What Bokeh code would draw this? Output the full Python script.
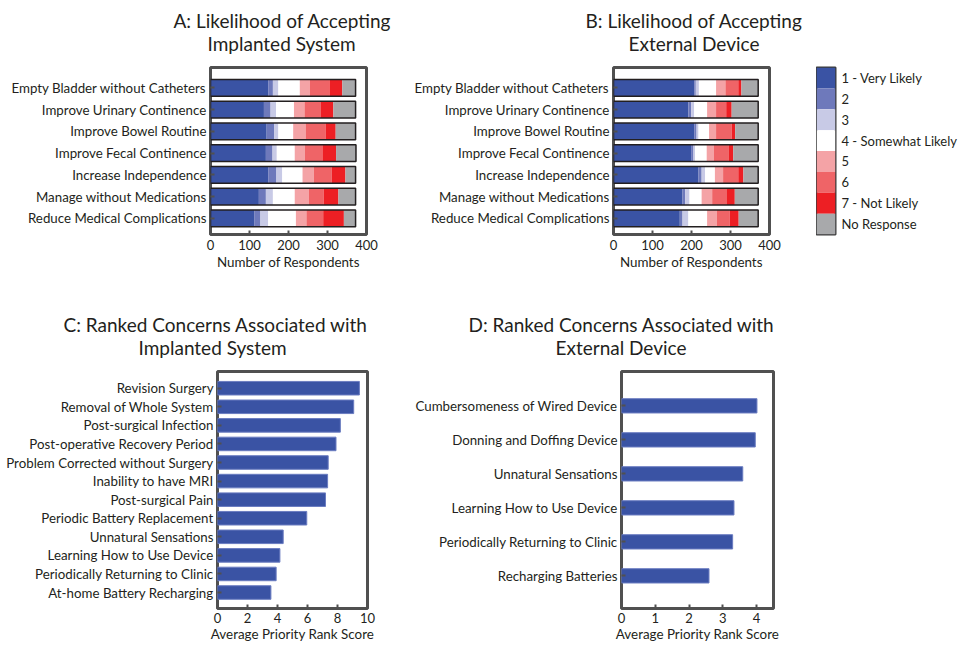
from bokeh.plotting import figure
from bokeh.models import Range1d, FixedTicker, Title, ColumnDataSource
from bokeh.layouts import row, column
from bokeh.embed import file_html
from bokeh.resources import INLINE

# ---------------- data ----------------
outcomes = ["Empty Bladder without Catheters", "Improve Urinary Continence",
            "Improve Bowel Routine", "Improve Fecal Continence",
            "Increase Independence", "Manage without Medications",
            "Reduce Medical Complications"]

response_labels = ["1 - Very Likely", "2", "3", "4 - Somewhat Likely",
                   "5", "6", "7 - Not Likely", "No Response"]
response_keys = ["r1", "r2", "r3", "r4", "r5", "r6", "r7", "nr"]
response_colors = ["#3a53a4", "#6e79bb", "#c8cae6", "#ffffff",
                   "#f4a3a6", "#ef6467", "#ed1f24", "#a8a9ab"]

# A: implanted system (respondents per response level, one value per outcome)
a_r1 = [148, 137, 144, 142, 148, 124, 112]
a_r2 = [12, 17, 19, 17, 21, 18, 16]
a_r3 = [14, 14, 11, 11, 15, 18, 20]
a_r4 = [55, 46, 38, 46, 52, 56, 71]
a_r5 = [26, 27, 32, 26, 29, 36, 27]
a_r6 = [50, 41, 51, 45, 46, 38, 43]
a_r7 = [33, 33, 26, 35, 35, 38, 53]
a_nr = [34, 57, 51, 51, 26, 44, 30]

# B: external device
b_r1 = [207, 192, 207, 199, 218, 177, 170]
b_r2 = [4, 7, 6, 6, 8, 7, 7]
b_r3 = [8, 8, 5, 4, 9, 11, 15]
b_r4 = [44, 33, 27, 30, 25, 31, 48]
b_r5 = [24, 23, 18, 18, 21, 27, 25]
b_r6 = [33, 26, 40, 39, 39, 38, 33]
b_r7 = [8, 14, 9, 11, 13, 20, 23]
b_nr = [43, 68, 59, 64, 38, 60, 50]

# C: ranked concerns, implanted system
implant_concerns = ["Revision Surgery", "Removal of Whole System",
                    "Post-surgical Infection", "Post-operative Recovery Period",
                    "Problem Corrected without Surgery", "Inability to have MRI",
                    "Post-surgical Pain", "Periodic Battery Replacement",
                    "Unnatural Sensations", "Learning How to Use Device",
                    "Periodically Returning to Clinic", "At-home Battery Recharging"]
implant_scores = [9.46, 9.08, 8.19, 7.90, 7.38, 7.34, 7.20, 5.95, 4.38, 4.16, 3.91, 3.56]

# D: ranked concerns, external device
external_concerns = ["Cumbersomeness of Wired Device", "Donning and Doffing Device",
                     "Unnatural Sensations", "Learning How to Use Device",
                     "Periodically Returning to Clinic", "Recharging Batteries"]
external_scores = [4.01, 3.96, 3.59, 3.33, 3.29, 2.59]

ab_ticks = [0, 100, 200, 300, 400]
c_ticks = [0, 2, 4, 6, 8, 10]
d_ticks = [0, 1, 2, 3, 4]

# ---------------- style ----------------
FONT = "Lato"
TEXT = "#231f20"
FRAME = "#505050"
BAR = "#3a53a4"


def style(p, xticks, labels, xlabel, tick_std=5, lab_std=1):
    p.outline_line_color = FRAME
    p.outline_line_width = 3
    p.grid.visible = False
    p.background_fill_color = "white"
    p.border_fill_color = "white"
    p.xaxis.ticker = FixedTicker(ticks=xticks)
    p.yaxis.ticker = FixedTicker(ticks=list(range(1, len(labels) + 1)))
    p.yaxis.major_label_overrides = {i + 1: lab for i, lab in enumerate(labels)}
    for ax in (p.xaxis[0], p.yaxis[0]):
        ax.axis_line_color = None
        ax.major_tick_in = 4
        ax.major_tick_out = 0
        ax.major_tick_line_color = FRAME
        ax.major_tick_line_width = 2
        ax.minor_tick_line_color = None
        ax.major_label_text_font = FONT
        ax.major_label_text_color = TEXT
    p.yaxis.major_label_text_font_size = "13.3px"
    p.yaxis.major_label_standoff = 4
    p.xaxis.major_label_text_font_size = "13px"
    p.xaxis.major_label_standoff = tick_std
    p.xaxis.axis_label = xlabel
    p.xaxis.axis_label_text_font = FONT
    p.xaxis.axis_label_text_font_size = "13.4px"
    p.xaxis.axis_label_text_font_style = "normal"
    p.xaxis.axis_label_text_color = TEXT
    p.xaxis.axis_label_standoff = lab_std


def titles(p, line1, off1, line2, off2, gap):
    # spacer between frame and title lines, then the two title lines
    p.add_layout(Title(text=" ", text_font_size=f"{gap}px", standoff=0), "above")
    for i, (txt, off) in enumerate(((line2, off2), (line1, off1))):
        t = Title(text=txt, align="left", offset=off, standoff=0,
                  text_font=FONT, text_font_size="19px",
                  text_font_style="normal", text_color=TEXT)
        if i == 1:
            try:
                t.standoff = -5
            except Exception:
                t.standoff = 0
        p.add_layout(t, "above")


def stacked(p, cols):
    data = {"y": list(range(1, len(outcomes) + 1))}
    for k, c in zip(response_keys, cols):
        data[k] = c
    data["total"] = [sum(v) for v in zip(*cols)]
    src = ColumnDataSource(data)
    rs = p.hbar_stack(response_keys, y="y", height=0.77, color=response_colors,
                      source=src, line_color=None)
    p.hbar(y="y", left=0, right="total", height=0.77, source=src,
           fill_color=None, line_color=TEXT, line_width=1.5)
    return rs


common = dict(output_backend="svg", toolbar_location=None, title=None)

# ---------------- A ----------------
pA = figure(frame_width=156, frame_height=167, x_range=Range1d(0, 400), y_range=Range1d(7.74, 0.06),
            min_border_left=210, min_border_right=39, min_border_top=67, min_border_bottom=66, **common)
stacked(pA, [a_r1, a_r2, a_r3, a_r4, a_r5, a_r6, a_r7, a_nr])
style(pA, ab_ticks, outcomes, "Number of Respondents")
titles(pA, "A: Likelihood of Accepting", -37, "Implanted System", -3, 10)

# ---------------- B ----------------
pB = figure(frame_width=156, frame_height=167, x_range=Range1d(0, 400), y_range=Range1d(7.74, 0.06),
            min_border_left=208, min_border_right=47, min_border_top=67, min_border_bottom=66, **common)
stacked(pB, [b_r1, b_r2, b_r3, b_r4, b_r5, b_r6, b_r7, b_nr])
style(pB, ab_ticks, outcomes, "Number of Respondents")
titles(pB, "B: Likelihood of Accepting", -28, "External Device", 15, 10)

# ---------------- legend (colour key) ----------------
pL = figure(frame_width=19, frame_height=167, x_range=Range1d(0, 1), y_range=Range1d(8.5, 0.5),
            x_axis_location=None, y_axis_location="right",
            min_border_left=0, min_border_right=0, min_border_top=67, min_border_bottom=66, **common)
pL.hbar(y=list(range(1, len(response_labels) + 1)), left=0, right=1, height=1,
        fill_color=response_colors, line_color=None)
pL.outline_line_color = "#3a3a3a"
pL.outline_line_width = 2
pL.grid.visible = False
pL.yaxis.ticker = FixedTicker(ticks=list(range(1, len(response_labels) + 1)))
pL.yaxis.major_label_overrides = {i + 1: lab for i, lab in enumerate(response_labels)}
pL.yaxis.axis_line_color = None
pL.yaxis.major_tick_line_color = None
pL.yaxis.major_tick_in = 0
pL.yaxis.major_tick_out = 0
pL.yaxis.minor_tick_line_color = None
pL.yaxis.major_label_standoff = 6
pL.yaxis.major_label_text_font = FONT
pL.yaxis.major_label_text_font_size = "13px"
pL.yaxis.major_label_text_color = TEXT

# ---------------- C ----------------
pC = figure(frame_width=150, frame_height=237, x_range=Range1d(0, 10), y_range=Range1d(12.86, 0.1),
            min_border_left=217, min_border_right=38, min_border_top=71, min_border_bottom=36, **common)
pC.hbar(y=list(range(1, len(implant_concerns) + 1)), left=0, right=implant_scores, height=0.73,
        fill_color=BAR, line_color="#6a7cc0", line_width=1)
style(pC, c_ticks, implant_concerns, "Average Priority Rank Score", tick_std=4, lab_std=0)
titles(pC, "C: Ranked Concerns Associated with", -154, "Implanted System", -79, 10)

# ---------------- D ----------------
pD = figure(frame_width=152, frame_height=237, x_range=Range1d(0, 4.5), y_range=Range1d(6.96, -0.01),
            min_border_left=216, min_border_right=100, min_border_top=71, min_border_bottom=36, **common)
pD.hbar(y=list(range(1, len(external_concerns) + 1)), left=0, right=external_scores, height=0.42,
        fill_color=BAR, line_color="#6a7cc0", line_width=1)
style(pD, d_ticks, external_concerns, "Average Priority Rank Score", tick_std=4, lab_std=0)
titles(pD, "D: Ranked Concerns Associated with", -153, "External Device", -66, 10)

layout = column(row(pA, pB, pL), row(pC, pD))
open("out.html", "w").write(file_html(layout, INLINE))
